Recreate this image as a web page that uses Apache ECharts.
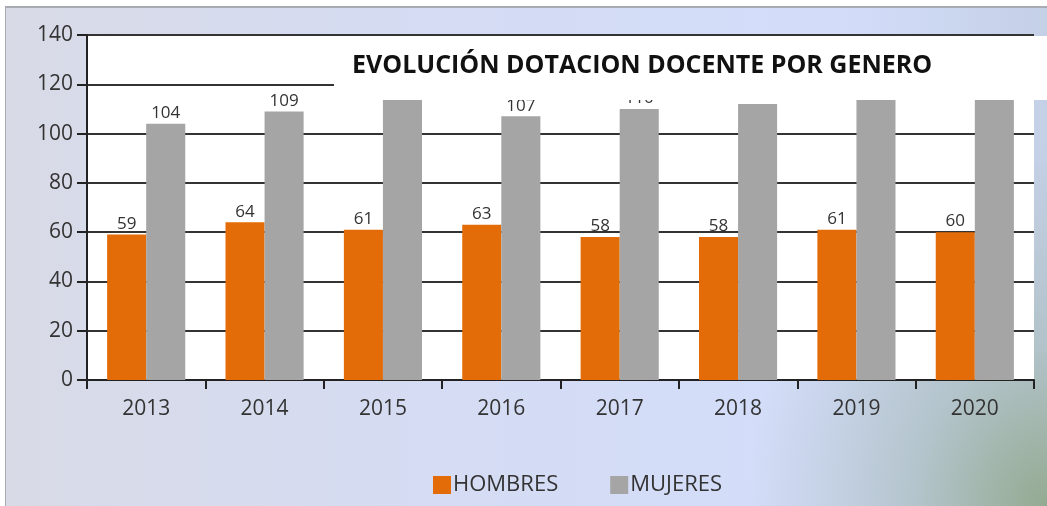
<!DOCTYPE html>
<html>
<head>
<meta charset="utf-8">
<script src="https://cdn.jsdelivr.net/npm/echarts@6/dist/echarts.min.js"></script>
<style>
  html, body { margin: 0; padding: 0; background: #fff; }
  #frame {
    position: absolute; left: 5px; top: 6px; width: 1042px; height: 500px;
    border-left: 1px solid #a9abb3; border-top: 2px solid #a9abb3;
    background:
      radial-gradient(ellipse 300px 360px at 100% 100%, #93aa90 0%, rgba(172,190,192,0.75) 45%, rgba(211,220,248,0) 100%),
      linear-gradient(to right, #d8dae6 0%, #d5dcf3 40%, #d3ddfa 80%, #c4d0e6 100%);
  }
  #chart { position: absolute; left: -5px; top: -6px; width: 1047px; height: 506px; }
</style>
</head>
<body>
<div id="frame"><div id="chart"></div></div>
<script>
const years = ['2013', '2014', '2015', '2016', '2017', '2018', '2019', '2020'];
const hombres = [59, 64, 61, 63, 58, 58, 61, 60];
const mujeres = [104, 109, 115, 107, 110, 112, 115, 115];
const yTicks = { min: 0, max: 140, interval: 20 };

const chart = echarts.init(document.getElementById('chart'), null, { renderer: 'canvas' });
const font = '"Open Sans", sans-serif';

chart.setOption({
  animation: false,
  backgroundColor: 'transparent',
  textStyle: { fontFamily: font },
  title: {
    text: 'EVOLUCIÓN DOTACION DOCENTE POR GENERO',
    left: 333,
    top: 34,
    backgroundColor: '#ffffff',
    padding: [13, 300, 17, 18],
    textStyle: { fontFamily: font, fontWeight: 'bold', fontSize: 25, color: '#111', lineHeight: 34 },
    z: 10
  },
  grid: {
    left: 86, right: 14, top: 33, bottom: 128,
    show: true, backgroundColor: '#ffffff', borderWidth: 0
  },
  legend: {
    left: 427, top: 467,
    icon: 'rect', itemWidth: 18, itemHeight: 18, itemGap: 52,
    textStyle: { fontFamily: font, fontSize: 22, color: '#333', padding: [0, 0, 0, -3] }
  },
  xAxis: {
    type: 'category',
    data: years,
    axisLine: { lineStyle: { color: '#222', width: 2 } },
    axisTick: { show: true, length: 9, lineStyle: { color: '#222', width: 2 } },
    axisLabel: { fontSize: 21, color: '#333', margin: 19 }
  },
  yAxis: {
    type: 'value',
    min: yTicks.min, max: yTicks.max, interval: yTicks.interval,
    axisLine: { show: true, lineStyle: { color: '#222', width: 2 } },
    axisTick: { show: true, length: 10, lineStyle: { color: '#222', width: 2 } },
    axisLabel: { fontSize: 21, color: '#333', margin: 14 },
    splitLine: { lineStyle: { color: '#333', width: 2 } }
  },
  series: [
    {
      name: 'HOMBRES', type: 'bar', data: hombres,
      itemStyle: { color: '#e36c09' },
      barGap: '0%', barCategoryGap: '34%',
      label: { show: true, position: 'top', distance: 2, fontSize: 17, color: '#333' }
    },
    {
      name: 'MUJERES', type: 'bar', data: mujeres,
      itemStyle: { color: '#a5a5a5' },
      label: { show: true, position: 'top', distance: 2, fontSize: 17, color: '#333' }
    }
  ]
});
</script>
</body>
</html>
